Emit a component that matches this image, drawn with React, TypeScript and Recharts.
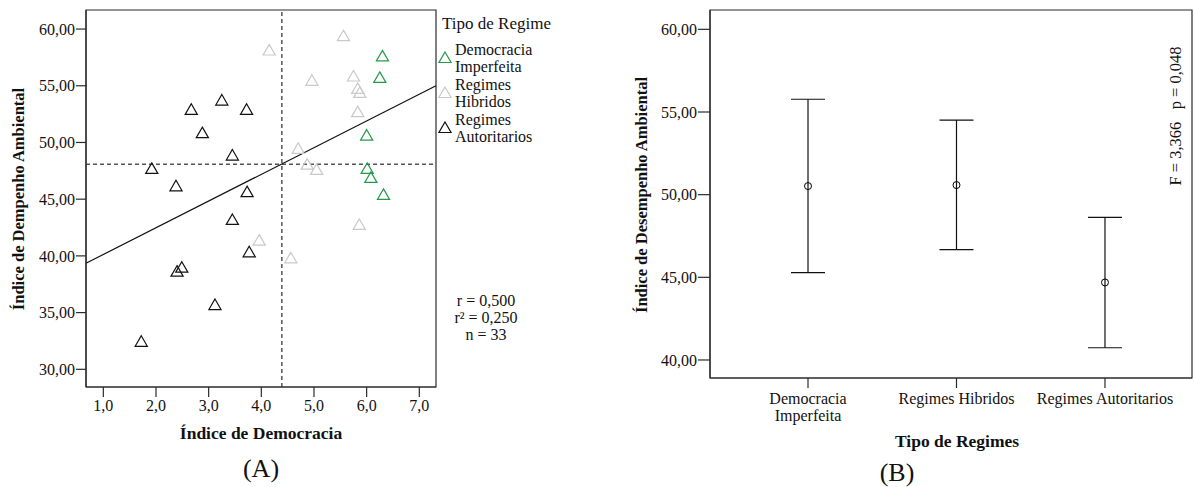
import React from 'react'
import {
  ScatterChart,
  Scatter,
  XAxis,
  YAxis,
  ZAxis,
  ReferenceLine,
  ReferenceArea,
  ErrorBar,
  Symbols,
} from 'recharts'

// (A) Índice de Democracia x Índice de Desempenho Ambiental
const democraciaX = [6.3, 6.25, 6.0, 6.01, 6.08, 6.32]
const democraciaY = [57.5, 55.61, 50.52, 47.58, 46.79, 45.29]
const hibridosX = [4.15, 5.56, 4.96, 5.75, 5.83, 5.87, 5.83, 4.7, 4.87, 5.05, 5.86, 3.96, 4.56]
const hibridosY = [58.02, 59.29, 55.35, 55.73, 54.64, 54.29, 52.59, 49.35, 47.96, 47.49, 42.64, 41.26, 39.7]
const autoritariosX = [1.92, 2.38, 2.67, 2.88, 3.25, 3.72, 3.45, 3.73, 3.45, 3.77, 2.49, 2.4, 3.12, 1.72]
const autoritariosY = [47.58, 46.05, 52.79, 50.73, 53.61, 52.79, 48.76, 45.53, 43.08, 40.23, 38.87, 38.52, 35.58, 32.34]

const xTicksA = [1, 2, 3, 4, 5, 6, 7]
const yTicksA = [30, 35, 40, 45, 50, 55, 60]
const meanDemocracia = 4.39
const meanDesempenho = 48.09
const slope = 2.355
const intercept = 37.77

// (B) médias e intervalos por tipo de regime
const regimes = ['Democracia Imperfeita', 'Regimes Hibridos', 'Regimes Autoritarios']
const regimeTickLines = [['Democracia', 'Imperfeita'], ['Regimes Hibridos'], ['Regimes Autoritarios']]
const meansB = [50.52, 50.58, 44.69]
const lowerB = [45.28, 46.67, 40.74]
const upperB = [55.77, 54.51, 48.63]
const yTicksB = [40, 45, 50, 55, 60]

const GREEN = '#23994a'
const GRAY = '#c9c9c9'
const BLACK = '#111'
const AXIS = '#2b2b2b'

const X_DOMAIN_A: [number, number] = [0.671, 7.317]
const Y_DOMAIN_A: [number, number] = [28.44, 61.68]
const X_DOMAIN_B: [number, number] = [0.34, 3.586]
const Y_DOMAIN_B: [number, number] = [38.91, 61.17]

const toPoints = (xs: number[], ys: number[]) => xs.map((x, i) => ({ x, y: ys[i] }))
const comma = (digits: number) => (v: number) => v.toFixed(digits).replace('.', ',')

const triangle = (color: string) => (props: any) => (
  <Symbols cx={props.cx} cy={props.cy} type="triangle" size={64} fill="none" stroke={color} strokeWidth={1.2} />
)

const meanDot = (props: any) => <circle cx={props.cx} cy={props.cy} r={3.5} fill="none" stroke="#000" strokeWidth={1} />

const RegimeTick = (props: any) => {
  const { x, y, payload } = props
  const lines = regimeTickLines[payload.value - 1] || []
  return (
    <text x={x} y={y} textAnchor="middle" fill="#111" fontSize={16}>
      {lines.map((l, i) => (
        <tspan key={i} x={x} dy={i === 0 ? 14 : 17}>
          {l}
        </tspan>
      ))}
    </text>
  )
}

const legendItems = [
  { color: GREEN, lines: ['Democracia', 'Imperfeita'] },
  { color: GRAY, lines: ['Regimes', 'Hibridos'] },
  { color: BLACK, lines: ['Regimes', 'Autoritarios'] },
]

const abs = (style: React.CSSProperties): React.CSSProperties => ({ position: 'absolute', whiteSpace: 'pre', ...style })

export default function App() {
  const regressionSegment = [
    { x: X_DOMAIN_A[0], y: intercept + slope * X_DOMAIN_A[0] },
    { x: X_DOMAIN_A[1], y: intercept + slope * X_DOMAIN_A[1] },
  ]
  const dataB = regimes.map((name, i) => ({
    name,
    pos: i + 1,
    mean: meansB[i],
    err: [meansB[i] - lowerB[i], upperB[i] - meansB[i]],
  }))

  const tickStyle = { fill: '#111', fontSize: 16 }

  return (
    <div
      style={{
        position: 'absolute',
        left: 0,
        top: 0,
        width: 1194,
        height: 487,
        background: '#fff',
        fontFamily: '"Liberation Serif", "Times New Roman", serif',
        color: '#111',
      }}
    >
      {/* (A) */}
      <div style={abs({ left: 0, top: 0 })}>
        <ScatterChart width={600} height={487} margin={{ top: 10, right: 164, bottom: 60, left: 0 }}>
          <XAxis
            type="number"
            dataKey="x"
            domain={X_DOMAIN_A}
            ticks={xTicksA}
            allowDataOverflow
            tickFormatter={comma(1)}
            tick={tickStyle}
            tickSize={10}
            tickMargin={3}
            height={40}
            stroke={AXIS}
            strokeWidth={1.2}
          />
          <YAxis
            type="number"
            dataKey="y"
            domain={Y_DOMAIN_A}
            ticks={yTicksA}
            allowDataOverflow
            tickFormatter={comma(2)}
            tick={tickStyle}
            tickSize={10}
            tickMargin={1}
            width={86}
            stroke={AXIS}
            strokeWidth={1.2}
          />
          <ZAxis range={[64, 64]} />
          <ReferenceArea
            x1={X_DOMAIN_A[0]}
            x2={X_DOMAIN_A[1]}
            y1={Y_DOMAIN_A[0]}
            y2={Y_DOMAIN_A[1]}
            fill="none"
            stroke={AXIS}
            strokeWidth={1.2}
            ifOverflow="visible"
          />
          <ReferenceLine x={meanDemocracia} stroke="#555" strokeWidth={1.5} strokeDasharray="4 3" />
          <ReferenceLine y={meanDesempenho} stroke="#555" strokeWidth={1.5} strokeDasharray="4 3" />
          <ReferenceLine segment={regressionSegment} stroke="#111" strokeWidth={1.2} ifOverflow="visible" />
          <Scatter
            name="Regimes Hibridos"
            data={toPoints(hibridosX, hibridosY)}
            shape={triangle(GRAY)}
            isAnimationActive={false}
          />
          <Scatter
            name="Regimes Autoritarios"
            data={toPoints(autoritariosX, autoritariosY)}
            shape={triangle(BLACK)}
            isAnimationActive={false}
          />
          <Scatter
            name="Democracia Imperfeita"
            data={toPoints(democraciaX, democraciaY)}
            shape={triangle(GREEN)}
            isAnimationActive={false}
          />
        </ScatterChart>
      </div>

      <div
        style={abs({
          left: 19,
          top: 199,
          transform: 'translate(-50%, -50%) rotate(-90deg)',
          fontWeight: 'bold',
          fontSize: 16.5,
        })}
      >
        Índice de Dempenho Ambiental
      </div>
      <div style={abs({ left: 261, top: 433, transform: 'translate(-50%, -50%)', fontWeight: 'bold', fontSize: 17.5 })}>
        Índice de Democracia
      </div>
      <div style={abs({ left: 261, top: 469, transform: 'translate(-50%, -50%)', fontSize: 26 })}>(A)</div>

      {/* legenda */}
      <div style={abs({ left: 442, top: 15, fontSize: 17, lineHeight: '17px' })}>Tipo de Regime</div>
      {legendItems.map((item, i) => (
        <div key={i} style={abs({ left: 437, top: 41 + i * 35, display: 'flex', alignItems: 'center' })}>
          <svg width={16} height={16} style={{ marginRight: 2, marginTop: 2 }}>
            <Symbols cx={8} cy={8} type="triangle" size={64} fill="none" stroke={item.color} strokeWidth={1.2} />
          </svg>
          <div style={{ fontSize: 16, lineHeight: '17px' }}>
            {item.lines.map((l, j) => (
              <div key={j}>{l}</div>
            ))}
          </div>
        </div>
      ))}

      <div style={abs({ left: 486, top: 292, transform: 'translateX(-50%)', fontSize: 16, lineHeight: '17px', textAlign: 'center' })}>
        {'r = 0,500\nr² = 0,250\nn = 33'}
      </div>

      {/* (B) */}
      <div style={abs({ left: 600, top: 0 })}>
        <ScatterChart width={594} height={487} margin={{ top: 10, right: 2, bottom: 59, left: 0 }}>
          <XAxis
            type="number"
            dataKey="pos"
            domain={X_DOMAIN_B}
            ticks={[1, 2, 3]}
            allowDataOverflow
            tick={<RegimeTick />}
            tickSize={10}
            tickMargin={2}
            height={50}
            stroke={AXIS}
            strokeWidth={1.2}
          />
          <YAxis
            type="number"
            dataKey="mean"
            domain={Y_DOMAIN_B}
            ticks={yTicksB}
            allowDataOverflow
            tickFormatter={comma(2)}
            tick={tickStyle}
            tickSize={12}
            tickMargin={1}
            width={110}
            stroke={AXIS}
            strokeWidth={1.2}
          />
          <ReferenceArea
            x1={X_DOMAIN_B[0]}
            x2={X_DOMAIN_B[1]}
            y1={Y_DOMAIN_B[0]}
            y2={Y_DOMAIN_B[1]}
            fill="none"
            stroke={AXIS}
            strokeWidth={1.2}
            ifOverflow="visible"
          />
          <Scatter data={dataB} shape={meanDot} isAnimationActive={false}>
            <ErrorBar dataKey="err" direction="y" width={17} stroke="#111" strokeWidth={1.2} />
          </Scatter>
        </ScatterChart>
      </div>

      <div
        style={abs({
          left: 642,
          top: 195,
          transform: 'translate(-50%, -50%) rotate(-90deg)',
          fontWeight: 'bold',
          fontSize: 16.5,
        })}
      >
        Índice de Desempenho Ambiental
      </div>
      <div
        style={abs({
          left: 1176,
          top: 116,
          transform: 'translate(-50%, -50%) rotate(-90deg)',
          fontSize: 16.5,
        })}
      >
        {'F = 3,366   p = 0,048'}
      </div>
      <div style={abs({ left: 957, top: 441, transform: 'translate(-50%, -50%)', fontWeight: 'bold', fontSize: 17.5 })}>
        Tipo de Regimes
      </div>
      <div style={abs({ left: 897, top: 473, transform: 'translate(-50%, -50%)', fontSize: 26 })}>(B)</div>
    </div>
  )
}
